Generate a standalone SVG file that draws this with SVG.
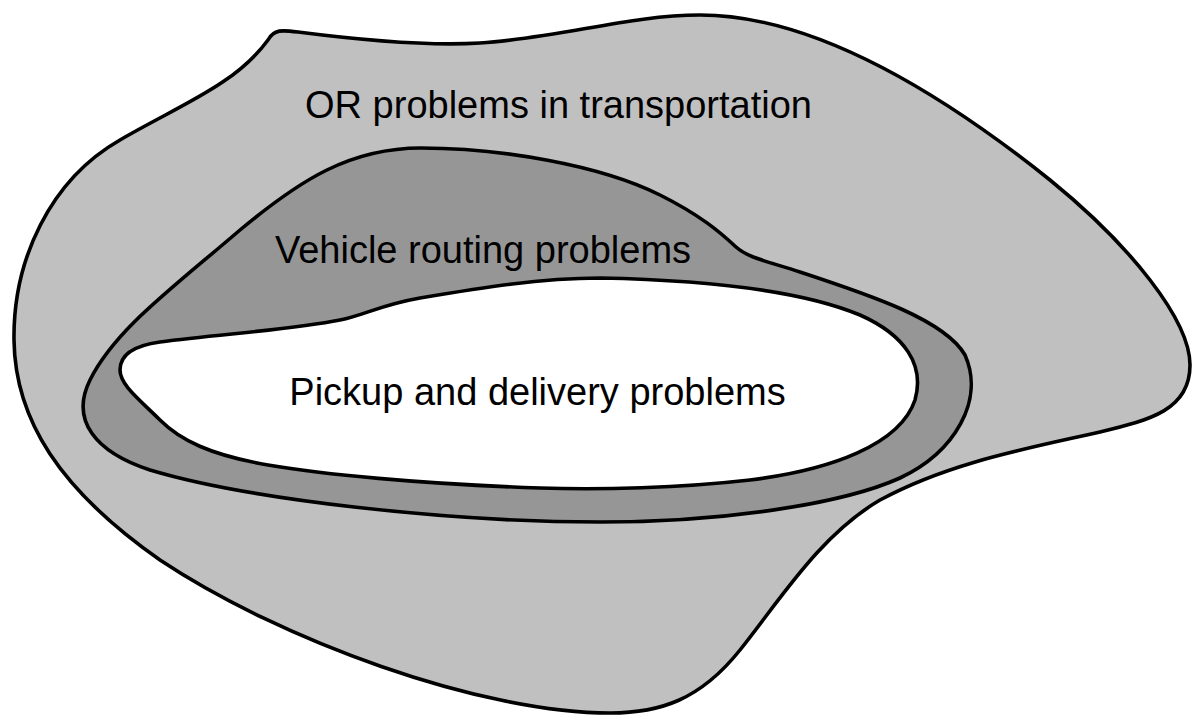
<svg xmlns="http://www.w3.org/2000/svg" width="1194" height="715" viewBox="0 0 1194 715">
  <style>
    .region { stroke: #000; stroke-width: 3.6; stroke-linejoin: round; }
    .outer { fill: #c0c0c0; }
    .middle { fill: #969696; }
    .inner { fill: #ffffff; }
    .label { font-family: "Liberation Sans", Arial, sans-serif; font-size: 38px; fill: #000; text-anchor: middle; }
  </style>
  <rect width="1194" height="715" fill="#ffffff"/>

  <!-- OR problems in transportation -->
  <g id="or-problems">
    <path class="region outer" d="M 268,40
      C 274,29 282,30 298,32
      C 360,40 430,46 480,43
      C 560,38 630,15 700,15
      C 820,15 950,100 1050,180
      C 1130,245 1190,320 1190,365
      C 1190,410 1150,420 1100,432
      C 1030,448 950,462 880,500
      C 820,535 780,600 740,650
      C 700,700 660,713 610,713
      C 480,713 280,640 160,560
      C 60,490 15,420 14,340
      C 13,260 50,180 120,140
      C 180,105 235,85 268,40 Z"/>
    <text class="label" x="558.5" y="118">OR problems in transportation</text>
  </g>

  <!-- Vehicle routing problems -->
  <g id="vehicle-routing">
    <path class="region middle" d="M 421,148
      C 500,148 600,165 660,195
      C 700,215 720,232 736,247
      C 748,258 770,262 800,272
      C 870,295 945,320 965,355
      C 985,400 955,452 900,478
      C 840,505 720,522 600,522
      C 450,522 250,500 150,470
      C 95,452 70,420 90,380
      C 115,330 170,290 240,230
      C 300,180 350,148 421,148 Z"/>
    <text class="label" x="483" y="263">Vehicle routing problems</text>
  </g>

  <!-- Pickup and delivery problems -->
  <g id="pickup-delivery">
    <path class="region inner" d="M 600,278
      C 700,280 800,290 860,315
      C 905,335 925,365 915,400
      C 900,445 830,470 750,480
      C 680,488 600,490 540,488
      C 420,484 320,474 268,465
      C 210,455 180,440 160,420
      C 140,400 120,385 120,370
      C 120,352 138,345 160,342
      C 220,334 290,330 340,320
      C 365,315 380,305 420,298
      C 480,288 540,278 600,278 Z"/>
    <text class="label" x="537.5" y="405">Pickup and delivery problems</text>
  </g>

  <g id="connectors"></g>
</svg>
